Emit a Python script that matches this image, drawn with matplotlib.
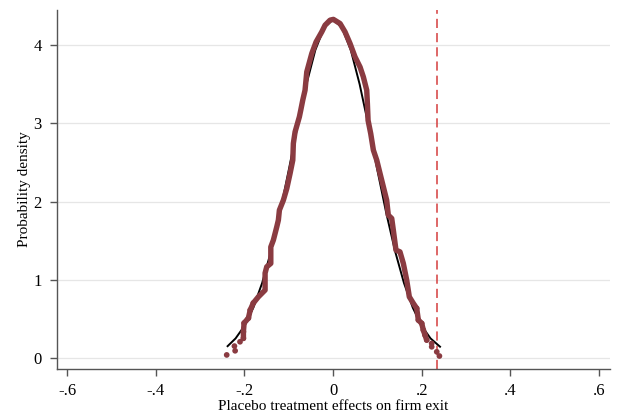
#!/usr/bin/env python3

"""Kernel density of placebo treatment effects with a normal overlay."""

import matplotlib
matplotlib.use("Agg")
import matplotlib.pyplot as plt

# kernel density of the placebo estimates
tail_left_x = [-0.240, -0.2226, -0.221, -0.210]
tail_left_y = [0.04, 0.153, 0.093, 0.208]
body_x = [-0.2023, -0.2023, -0.2008, -0.191, -0.187, -0.180, -0.1685, -0.1534,
          -0.1534, -0.1496, -0.1405, -0.1405, -0.1347, -0.127, -0.1234, -0.1211,
          -0.1121, -0.1044, -0.097, -0.0909, -0.0896, -0.0857, -0.076, -0.0729,
          -0.0684, -0.0632, -0.0593, -0.048, -0.0383, -0.0255, -0.018, -0.0068,
          0.0007, 0.0158, 0.027, 0.0383, 0.0496, 0.061, 0.0684, 0.076, 0.0775,
          0.079, 0.085, 0.091, 0.0986, 0.106, 0.1135, 0.121, 0.1247, 0.1324,
          0.136, 0.142, 0.151, 0.1586, 0.1662, 0.1721, 0.1812, 0.1888, 0.1925,
          0.2001, 0.2037, 0.2075, 0.2114]
body_y = [0.252, 0.336, 0.447, 0.511, 0.613, 0.703, 0.783, 0.869,
          1.086, 1.167, 1.21, 1.42, 1.508, 1.678, 1.764, 1.891,
          2.019, 2.168, 2.36, 2.53, 2.744, 2.892, 3.084, 3.169,
          3.297, 3.425, 3.659, 3.894, 4.042, 4.17, 4.256, 4.32,
          4.33, 4.277, 4.17, 4.022, 3.85, 3.72, 3.594, 3.424, 3.25,
          3.04, 2.87, 2.658, 2.53, 2.36, 2.19, 2.019, 1.827, 1.785,
          1.636, 1.38, 1.358, 1.21, 0.997, 0.783, 0.699, 0.635, 0.486,
          0.443, 0.358, 0.294, 0.23]
tail_right_x = [0.2226, 0.2226, 0.234, 0.240]
tail_right_y = [0.187, 0.144, 0.08, 0.026]

# normal density overlay
normal_x = [-0.238, -0.22, -0.20, -0.18, -0.16, -0.14, -0.12, -0.10, -0.08,
            -0.06, -0.04, -0.02, 0.0, 0.02, 0.04, 0.06, 0.08, 0.10, 0.12,
            0.14, 0.16, 0.18, 0.20, 0.22, 0.2414]
normal_y = [0.152, 0.251, 0.411, 0.643, 0.960, 1.366, 1.855, 2.403, 2.970,
            3.501, 3.938, 4.226, 4.327, 4.226, 3.938, 3.501, 2.970, 2.403,
            1.855, 1.366, 0.960, 0.643, 0.411, 0.251, 0.145]

actual_effect = 0.234

x_ticks = [-0.6, -0.4, -0.2, 0.0, 0.2, 0.4, 0.6]
x_tick_labels = ["-.6", "-.4", "-.2", "0", ".2", ".4", ".6"]
y_ticks = [0, 1, 2, 3, 4]

maroon = "#8a3b41"

plt.rcParams["font.family"] = ["Liberation Serif", "DejaVu Serif"]
fig = plt.figure(figsize=(6.18, 4.15), dpi=100)
ax = fig.add_axes([57 / 618, 46 / 415, 553 / 618, 359 / 415])

ax.plot(body_x, body_y, color=maroon, lw=3.9, solid_capstyle="round",
        solid_joinstyle="round", zorder=3)
ax.scatter(tail_left_x + body_x[:6] + body_x[-6:] + tail_right_x,
           tail_left_y + body_y[:6] + body_y[-6:] + tail_right_y,
           s=17, color=maroon, edgecolors="none", zorder=3)
ax.plot(normal_x, normal_y, color="black", lw=1.4, zorder=2)
ax.axvline(actual_effect, color="#d43d3d", lw=1.1, dashes=(6, 3.3), zorder=1)

ax.set_xlim(-0.623, 0.625)
ax.set_ylim(-0.14, 4.45)
ax.set_xticks(x_ticks)
ax.set_xticklabels(x_tick_labels)
ax.set_yticks(y_ticks)
ax.grid(axis="y", color="#e6e6e6", lw=0.9)
ax.set_axisbelow(True)

for side in ["top", "right"]:
    ax.spines[side].set_visible(False)
for side in ["left", "bottom"]:
    ax.spines[side].set_color("#555555")
    ax.spines[side].set_linewidth(1.0)
ax.tick_params(axis="both", colors="#555555", length=5, width=1.0,
               labelsize=12, labelcolor="black")
ax.tick_params(axis="y", pad=6)
ax.tick_params(axis="x", pad=5)

ax.set_xlabel("Placebo treatment effects on firm exit", fontsize=11, labelpad=1)
ax.set_ylabel("Probability density", fontsize=11, labelpad=2)

fig.savefig("out.png", dpi=100)
